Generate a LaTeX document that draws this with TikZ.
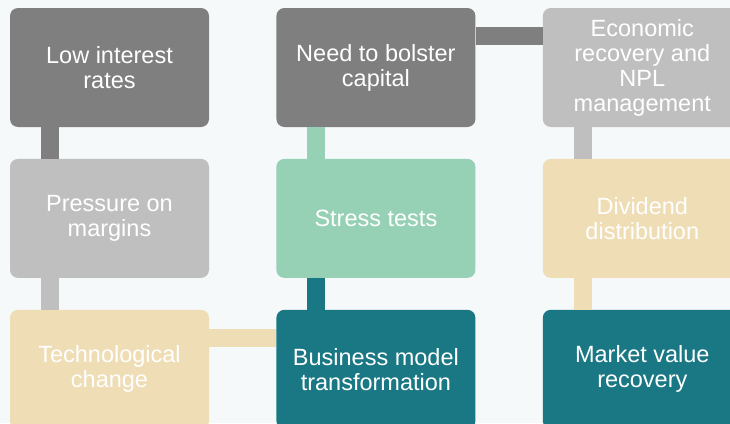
\documentclass[tikz,border=0pt]{standalone}
\usepackage{fontspec}
\setmainfont{Liberation Sans}
\usetikzlibrary{positioning}

\definecolor{pagebg}{HTML}{F5F9FA}
\definecolor{boxgray}{HTML}{7F7F7F}
\definecolor{boxsilver}{HTML}{BFBFBF}
\definecolor{boxmint}{HTML}{97D1B5}
\definecolor{boxsand}{HTML}{EFDDB5}
\definecolor{boxteal}{HTML}{197883}

\begin{document}
\begin{tikzpicture}[box/.style={rectangle,rounded corners=8pt,minimum width=199pt,minimum height=119pt,inner sep=0pt,align=center,text=white,font=\fontsize{23.5}{25}\selectfont},
  link/.style={line width=18pt,#1},
  node distance=31.5pt and 67pt]
\useasboundingbox[fill=pagebg] (0,0) rectangle (730pt,-423pt);

\node[box,fill=boxgray] (lowrates) at (109.5pt,-67.5pt) {Low interest\\rates};
\node[box,fill=boxsilver,below=of lowrates] (margins) {Pressure on\\margins};
\node[box,fill=boxsand,below=of margins] (techchange) {Technological\\change};
\node[box,fill=boxteal,right=of techchange] (bizmodel) {Business model\\transformation};
\node[box,fill=boxmint,above=of bizmodel] (stresstests) {Stress tests};
\node[box,fill=boxgray,above=of stresstests] (capital) {Need to bolster\\capital};
\node[box,fill=boxsilver,right=of capital] (recovery) {Economic\\recovery and\\NPL\\management};
\node[box,fill=boxsand,below=of recovery] (dividend) {Dividend\\distribution};
\node[box,fill=boxteal,below=of dividend] (marketval) {Market value\\recovery};

% links take the colour of the box they leave
\draw[link=boxgray] ([xshift=40pt]lowrates.south west) -- ([xshift=40pt]margins.north west);
\draw[link=boxsilver] ([xshift=40pt]margins.south west) -- ([xshift=40pt]techchange.north west);
\draw[link=boxsand] ([yshift=-28.5pt]techchange.north east) -- ([yshift=-28.5pt]bizmodel.north west);
\draw[link=boxteal] ([xshift=40pt]bizmodel.north west) -- ([xshift=40pt]stresstests.south west);
\draw[link=boxmint] ([xshift=40pt]stresstests.north west) -- ([xshift=40pt]capital.south west);
\draw[link=boxgray] ([yshift=-28.5pt]capital.north east) -- ([yshift=-28.5pt]recovery.north west);
\draw[link=boxsilver] ([xshift=40pt]recovery.south west) -- ([xshift=40pt]dividend.north west);
\draw[link=boxsand] ([xshift=40pt]dividend.south west) -- ([xshift=40pt]marketval.north west);
\end{tikzpicture}
\end{document}
